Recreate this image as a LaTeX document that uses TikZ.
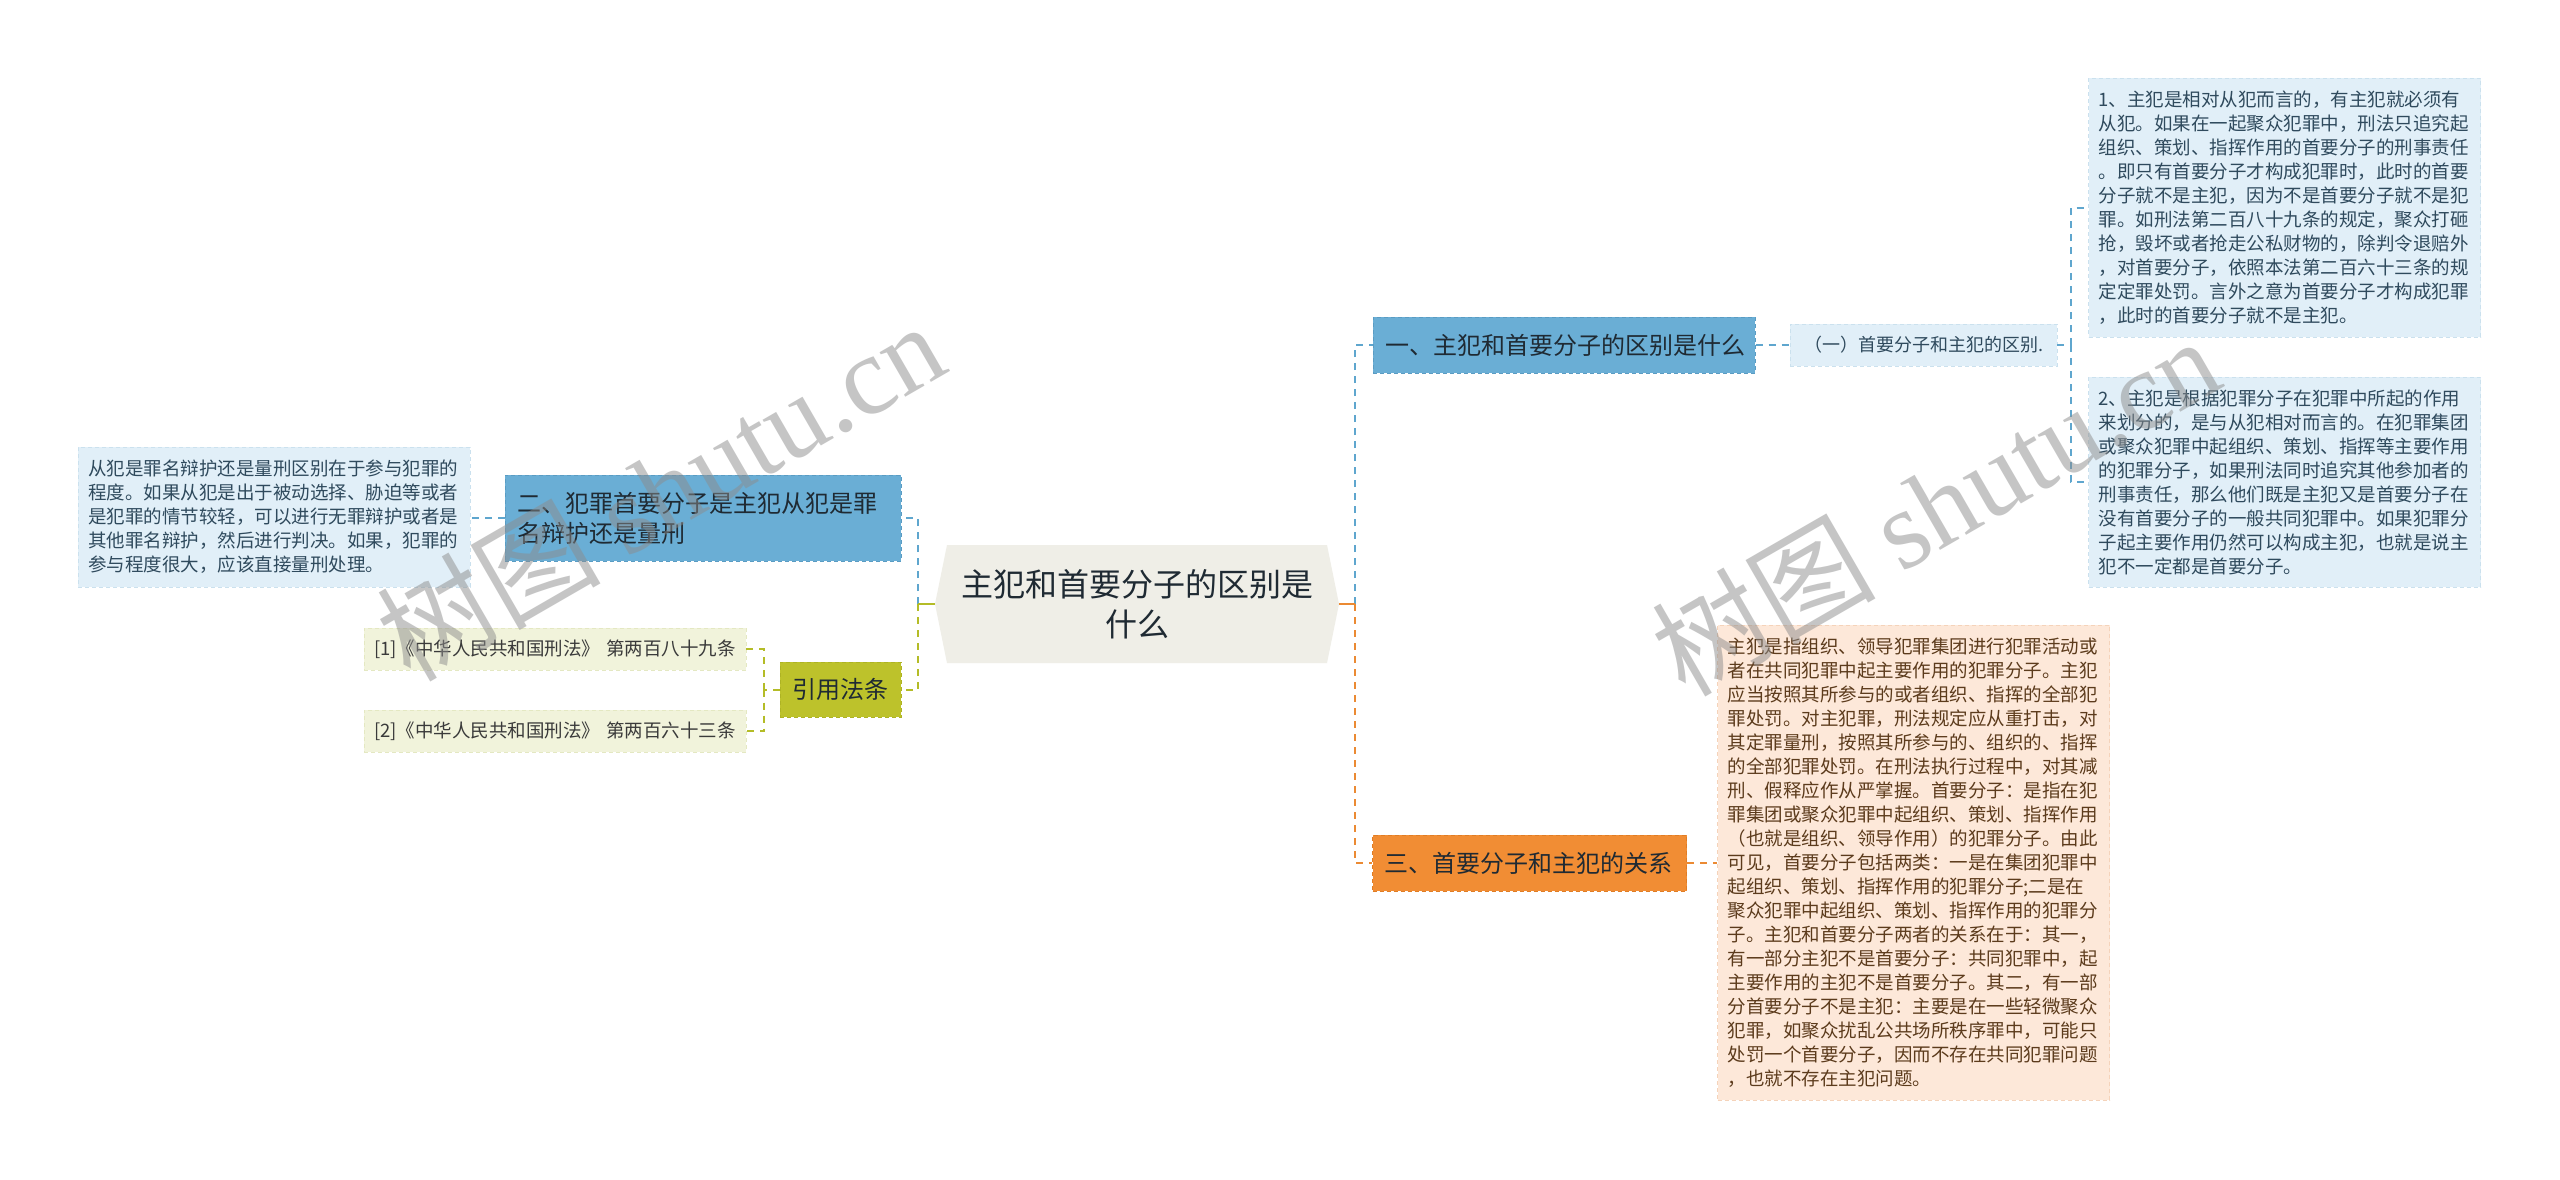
\documentclass[tikz,border=0pt]{standalone}
\usepackage{fontspec}
\setmainfont{Noto Sans CJK SC}
\newfontfamily\wmserif{Liberation Serif}
\definecolor{cCenter}{HTML}{EFEEE7}
\definecolor{cBlue}{HTML}{6AAED5}
\definecolor{cBlueB}{HTML}{5A9CC3}
\definecolor{cBlueL}{HTML}{5FA6CE}
\definecolor{cLight}{HTML}{E1EFF8}
\definecolor{cLightB}{HTML}{CBE1EE}
\definecolor{cOr}{HTML}{F18D34}
\definecolor{cOrB}{HTML}{E07D25}
\definecolor{cOrL}{HTML}{EB8A33}
\definecolor{cPeach}{HTML}{FDE8D9}
\definecolor{cPeachB}{HTML}{F5D3BA}
\definecolor{cOl}{HTML}{BDC22B}
\definecolor{cOlB}{HTML}{AEB324}
\definecolor{cOlL}{HTML}{B4BC27}
\definecolor{cRef}{HTML}{F1F3DB}
\definecolor{cRefB}{HTML}{E4E8C2}
\definecolor{cDark}{HTML}{1F2A33}
\definecolor{cTxtB}{HTML}{2F4A5D}
\definecolor{cTxtO}{HTML}{5C3B1C}
\definecolor{cTxtR}{HTML}{3A3A3A}
\definecolor{cWm}{HTML}{8C8C8C}
\begin{document}
\begin{tikzpicture}[x=1pt,y=-1pt,
  mainnode/.style={draw, dash pattern=on 4pt off 3pt, line width=1pt, text=cDark,
    font=\fontsize{24}{30}\selectfont, inner xsep=12pt, inner ysep=0pt, align=left},
  bluenode/.style={mainnode, fill=cBlue, draw=cBlueB},
  orangenode/.style={mainnode, fill=cOr, draw=cOrB},
  olivenode/.style={mainnode, fill=cOl, draw=cOlB, align=center, minimum width=121pt, minimum height=55pt, inner xsep=0pt},
  textbox/.style={draw, dash pattern=on 4pt off 3pt, line width=0.8pt,
    font=\fontsize{18.5}{24}\selectfont, inner xsep=10pt, inner ysep=0pt, align=left, text width=372pt},
  bluebox/.style={textbox, fill=cLight, draw=cLightB, text=cTxtB},
  peachbox/.style={textbox, fill=cPeach, draw=cPeachB, text=cTxtO},
  refbox/.style={textbox, fill=cRef, draw=cRefB, text=cTxtR, text width=362pt, minimum height=42pt},
  conn/.style={line width=2pt, dash pattern=on 7pt off 6pt},
  bconn/.style={conn, cBlueL},
  oconn/.style={conn, cOrL},
  lconn/.style={conn, cOlL},
  wm/.style={text=cWm, opacity=0.5, rotate=30, font=\fontsize{112}{112}\selectfont}
]
\useasboundingbox[fill=white] (0,0) rectangle (2560,1179);

% central node
\fill[cCenter] (947,545) -- (1327,545) -- (1339,604) -- (1327,663) -- (947,663) -- (935,604) -- cycle;
\node[font=\fontsize{32}{40}\selectfont, text=cDark, align=center, minimum width=404pt, minimum height=118pt, inner sep=0pt] (c) at (1137,604) {主犯和首要分子的区别是\\什么};

% right side
\node[bluenode, text width=358pt, minimum height=56pt] (n1) at (1564,345) {一、主犯和首要分子的区别是什么};
\node[bluebox, text width=247pt, minimum height=42pt, align=center, font=\fontsize{18}{24}\selectfont] (n1a) at (1923.5,345) {（一）首要分子和主犯的区别.};
\node[bluebox, minimum height=259pt] (b1) at (2284.5,207.5) {1、主犯是相对从犯而言的，有主犯就必须有\\从犯。如果在一起聚众犯罪中，刑法只追究起\\组织、策划、指挥作用的首要分子的刑事责任\\。即只有首要分子才构成犯罪时，此时的首要\\分子就不是主犯，因为不是首要分子就不是犯\\罪。如刑法第二百八十九条的规定，聚众打砸\\抢，毁坏或者抢走公私财物的，除判令退赔外\\，对首要分子，依照本法第二百六十三条的规\\定定罪处罚。言外之意为首要分子才构成犯罪\\，此时的首要分子就不是主犯。};
\node[bluebox, minimum height=210pt] (b2) at (2284.5,482) {2、主犯是根据犯罪分子在犯罪中所起的作用\\来划分的，是与从犯相对而言的。在犯罪集团\\或聚众犯罪中起组织、策划、指挥等主要作用\\的犯罪分子，如果刑法同时追究其他参加者的\\刑事责任，那么他们既是主犯又是首要分子在\\没有首要分子的一般共同犯罪中。如果犯罪分\\子起主要作用仍然可以构成主犯，也就是说主\\犯不一定都是首要分子。};
\node[orangenode, text width=290pt, minimum height=56pt] (n3) at (1529.5,863) {三、首要分子和主犯的关系};
\node[peachbox, minimum height=475pt] (b3) at (1913.5,862.5) {主犯是指组织、领导犯罪集团进行犯罪活动或\\者在共同犯罪中起主要作用的犯罪分子。主犯\\应当按照其所参与的或者组织、指挥的全部犯\\罪处罚。对主犯罪，刑法规定应从重打击，对\\其定罪量刑，按照其所参与的、组织的、指挥\\的全部犯罪处罚。在刑法执行过程中，对其减\\刑、假释应作从严掌握。首要分子：是指在犯\\罪集团或聚众犯罪中起组织、策划、指挥作用\\（也就是组织、领导作用）的犯罪分子。由此\\可见，首要分子包括两类：一是在集团犯罪中\\起组织、策划、指挥作用的犯罪分子;二是在\\聚众犯罪中起组织、策划、指挥作用的犯罪分\\子。主犯和首要分子两者的关系在于：其一，\\有一部分主犯不是首要分子：共同犯罪中，起\\主要作用的主犯不是首要分子。其二，有一部\\分首要分子不是主犯：主要是在一些轻微聚众\\犯罪，如聚众扰乱公共场所秩序罪中，可能只\\处罚一个首要分子，因而不存在共同犯罪问题\\，也就不存在主犯问题。};

% left side
\node[bluenode, text width=372pt, minimum height=86pt] (n2) at (703,518) {二、犯罪首要分子是主犯从犯是罪\\名辩护还是量刑};
\node[bluebox, minimum height=140pt] (bl) at (274,517) {从犯是罪名辩护还是量刑区别在于参与犯罪的\\程度。如果从犯是出于被动选择、胁迫等或者\\是犯罪的情节较轻，可以进行无罪辩护或者是\\其他罪名辩护，然后进行判决。如果，犯罪的\\参与程度很大，应该直接量刑处理。};
\node[olivenode] (nr) at (840.5,689.5) {引用法条};
\node[refbox] (r1) at (555,649) {[1]《中华人民共和国刑法》 第两百八十九条};
\node[refbox] (r2) at (555,731) {[2]《中华人民共和国刑法》 第两百六十三条};

% connectors right
\coordinate (busR) at (1355,604);
\draw[bconn] (busR) |- (n1.west);
\draw[oconn] (busR) |- (n3.west);
\draw[cOrL, line width=2pt] (c.east) -- (busR);
\draw[bconn] (n1.east) -- (n1a.west);
\coordinate (busA) at (2071,345);
\draw[bconn] (n1a.east) -- (busA);
\draw[bconn] (busA) |- (b1.west);
\draw[bconn] (busA) |- (b2.west);
\draw[oconn] (n3.east) -- (n3.east -| b3.west);

% connectors left
\coordinate (busL) at (918,604);
\draw[bconn] (busL) |- (n2.east);
\draw[lconn] (busL) |- (nr.east);
\draw[cOlL, line width=2pt] (c.west) -- (busL);
\draw[bconn] (n2.west) -- (n2.west -| bl.east);
\coordinate (busF) at (764,689.5);
\draw[lconn] (nr.west) -- (busF);
\draw[lconn] (busF) |- (r1.east);
\draw[lconn] (busF) |- (r2.east);

% watermarks
\node[wm] (wm1) at (660,490) {树图 {\wmserif shutu.cn}};
\node[wm] (wm2) at (1935,505) {树图 {\wmserif shutu.cn}};
\end{tikzpicture}
\end{document}
